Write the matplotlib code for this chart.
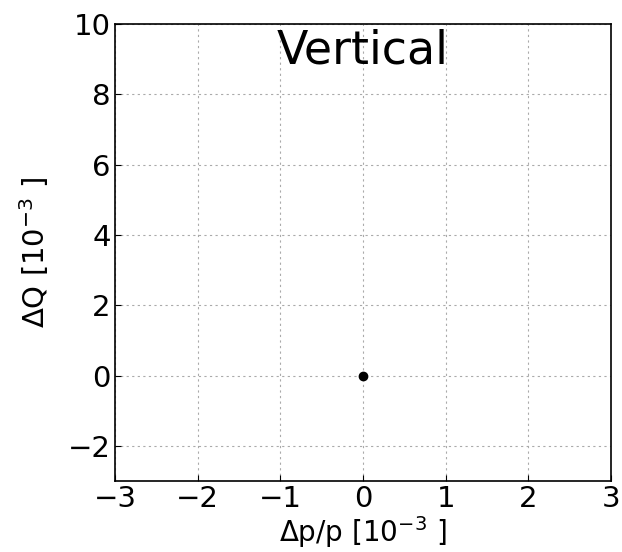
import matplotlib
matplotlib.use("Agg")
import matplotlib.pyplot as plt

# data
dp = [0.0]
dq = [0.0]
xticks = [-3, -2, -1, 0, 1, 2, 3]
yticks = [-2, 0, 2, 4, 6, 8, 10]

fig = plt.figure(figsize=(6.22, 5.52), dpi=100)
ax = fig.add_axes([115 / 622, 1 - 481 / 552, 496 / 622, 457 / 552])

ax.plot(dp, dq, "o", color="black", markersize=6)

ax.set_xlim(-3, 3)
ax.set_ylim(-3, 10)
ax.set_xticks(xticks)
ax.set_yticks(yticks)
ax.tick_params(direction="in", labelsize=21, length=4, pad=3)
ax.grid(True, color="#aaaaaa", linestyle=(0, (2, 3)), linewidth=0.8)

ax.set_xlabel(r"$\Delta$p/p [10$^{-3}$ ]", fontsize=20, labelpad=1)
ax.set_ylabel(r"$\Delta$Q [10$^{-3}$ ]", fontsize=21, labelpad=12)
ax.text(0.5, 0.94, "Vertical", transform=ax.transAxes, ha="center", va="center", fontsize=33)

for s in ax.spines.values():
    s.set_linewidth(1.2)

fig.savefig("out.png", dpi=100)
